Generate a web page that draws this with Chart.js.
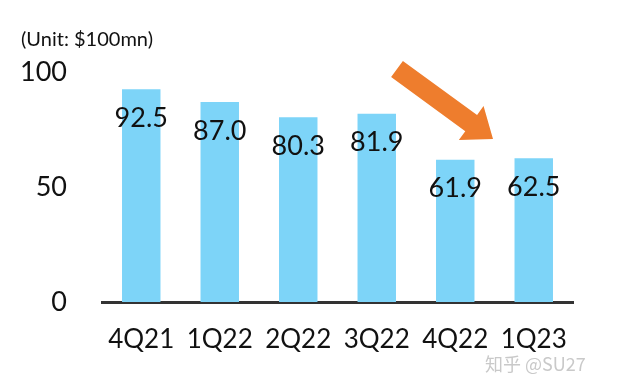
<!DOCTYPE html>
<html>
<head>
<meta charset="utf-8">
<script src="https://cdn.jsdelivr.net/npm/chart.js@4/dist/chart.umd.min.js"></script>
<style>
	html, body { margin: 0; padding: 0; background: #fff; }
	#wrap { width: 640px; height: 388px; position: relative; }
</style>
</head>
<body>
<div id="wrap"><canvas id="chart"></canvas></div>
<script>
// chart data
var quarters = ["4Q21", "1Q22", "2Q22", "3Q22", "4Q22", "1Q23"];
var revenue = [92.5, 87.0, 80.3, 81.9, 61.9, 62.5];
var yTicks = [0, 50, 100];

var fontName = "Lato, 'Open Sans', sans-serif";

// value text inside each bar, a bit under the top
var valueLabels = {
	id: "valueLabels",
	afterDatasetsDraw: function(chart) {
		var ctx = chart.ctx;
		var meta = chart.getDatasetMeta(0);
		ctx.save();
		ctx.font = "27px " + fontName;
		ctx.fillStyle = "#111";
		ctx.textAlign = "center";
		ctx.textBaseline = "middle";
		meta.data.forEach(function(bar, i) {
			ctx.fillText(revenue[i].toFixed(1), bar.x, bar.y + 29);
		});
		ctx.restore();
	}
};

// unit note, orange arrow and watermark
var extras = {
	id: "extras",
	afterDraw: function(chart) {
		var ctx = chart.ctx;
		ctx.save();
		ctx.font = "20px " + fontName;
		ctx.fillStyle = "#111";
		ctx.textAlign = "left";
		ctx.textBaseline = "middle";
		ctx.fillText("(Unit: $100mn)", 21, 40);

		// arrow
		var x1 = 397, y1 = 69, x2 = 493, y2 = 139;
		var ang = Math.atan2(y2 - y1, x2 - x1);
		var len = Math.hypot(x2 - x1, y2 - y1);
		ctx.translate(x1, y1);
		ctx.rotate(ang);
		ctx.fillStyle = "#ee7d2d";
		ctx.beginPath();
		ctx.moveTo(0, -10);
		ctx.lineTo(len - 27, -10);
		ctx.lineTo(len - 27, -21);
		ctx.lineTo(len, 0);
		ctx.lineTo(len - 27, 21);
		ctx.lineTo(len - 27, 10);
		ctx.lineTo(0, 10);
		ctx.closePath();
		ctx.fill();
		ctx.setTransform(1, 0, 0, 1, 0, 0);

		ctx.font = "18px 'Noto Sans CJK SC', sans-serif";
		ctx.fillStyle = "#c9c9c9";
		ctx.fillText("知乎 @SU27", 485, 364);
		ctx.restore();
	}
};

new Chart(document.getElementById("chart"), {
	type: "bar",
	data: {
		labels: quarters,
		datasets: [{
			data: revenue,
			backgroundColor: "#7dd4f8",
			categoryPercentage: 1.0,
			barPercentage: 0.49
		}]
	},
	options: {
		responsive: true,
		maintainAspectRatio: false,
		animation: false,
		layout: { padding: { top: 72, right: 67, left: 0, bottom: 0 } },
		plugins: {
			legend: { display: false },
			tooltip: { enabled: false }
		},
		scales: {
			x: {
				grid: { display: false, drawTicks: false },
				border: { display: true, color: "#333", width: 3 },
				ticks: {
					color: "#111",
					font: { family: fontName, size: 26 },
					padding: 22,
					maxRotation: 0
				},
				afterFit: function(scale) { scale.height = 86; }
			},
			y: {
				min: 0,
				max: 100,
				afterBuildTicks: function(scale) {
					scale.ticks = yTicks.map(function(v) { return { value: v }; });
				},
				grid: { display: false, drawTicks: false },
				border: { display: false },
				ticks: {
					color: "#111",
					font: { family: fontName, size: 27 },
					padding: 35
				},
				afterFit: function(scale) { scale.width = 102; }
			}
		}
	},
	plugins: [valueLabels, extras]
});
</script>
</body>
</html>
